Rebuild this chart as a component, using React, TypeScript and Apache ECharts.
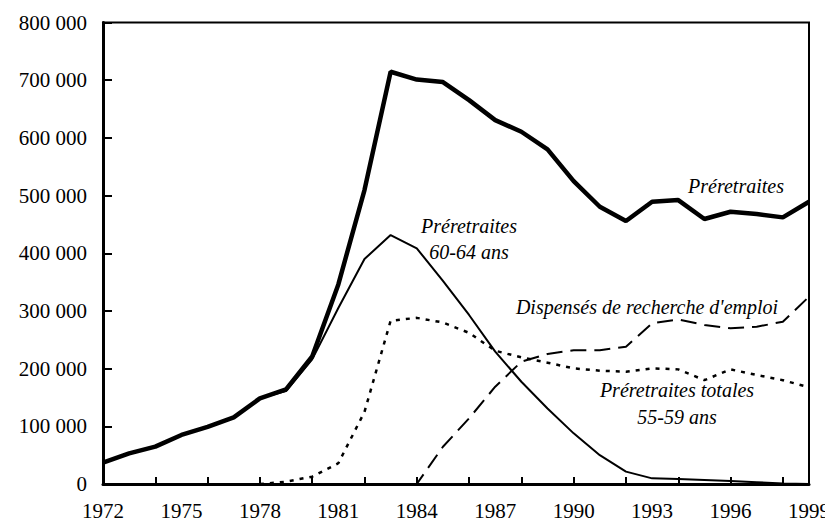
import React, { useEffect, useRef } from "react";
import * as echarts from "echarts";

const years = [
  "1972", "1973", "1974", "1975", "1976", "1977", "1978", "1979", "1980", "1981",
  "1982", "1983", "1984", "1985", "1986", "1987", "1988", "1989", "1990", "1991",
  "1992", "1993", "1994", "1995", "1996", "1997", "1998", "1999",
];

const preretraites = [
  37000, 53000, 64700, 85000, 99000, 115600, 148500, 164000, 221000, 346000,
  509500, 714600, 701000, 696700, 665500, 630800, 610600, 580000, 525000, 480600,
  455800, 489300, 492200, 459300, 472000, 468000, 462200, 489300,
];

const pre6064 = [
  37000, 53000, 64700, 85000, 99000, 115600, 148500, 161000, 216000, 305000,
  390000, 431500, 408500, 352000, 293000, 229400, 177300, 131000, 87800, 50000,
  21400, 9800, 8600, 6900, 5000, 3000, 1000, 0,
];

const pre5559 = [
  null, null, null, null, null, null, 0, 4000, 12700, 36000,
  125000, 283000, 288000, 280000, 262000, 231000, 219500, 210300, 200500, 196400,
  194700, 200500, 198700, 180000, 198700, 189000, 180000, 167500,
];

const dispenses = [
  null, null, null, null, null, null, null, null, null, null,
  0, 0, 0, 64600, 113800, 168700, 212000, 225300, 232000, 232000,
  238000, 278500, 285400, 275600, 269800, 272600, 281300, 324600,
];

const FONT = "Liberation Serif";

export default function App() {
  const ref = useRef<HTMLDivElement>(null);
  useEffect(() => {
    if (!ref.current) return;
    const chart = echarts.init(ref.current, null, { renderer: "svg" });
    const labelStyle = (text: string, x: number, y: number) => ({
      type: "text",
      x,
      y,
      style: {
        text,
        fill: "#000",
        fontFamily: FONT,
        fontStyle: "italic",
        fontSize: 20,
        align: "center",
        verticalAlign: "middle",
      },
    });
    chart.setOption({
      animation: false,
      backgroundColor: "#fff",
      grid: {
        left: 103,
        right: 24,
        top: 22.5,
        bottom: 42,
        show: true,
        borderColor: "#000",
        borderWidth: 2,
      },
      xAxis: {
        type: "category",
        data: years,
        boundaryGap: false,
        axisLine: { lineStyle: { color: "#000", width: 3 } },
        axisTick: {
          inside: true,
          length: 7,
          interval: (i: number) => i % 2 === 0,
          lineStyle: { color: "#000", width: 2 },
        },
        axisLabel: {
          interval: (i: number) => i % 3 === 0,
          color: "#000",
          fontFamily: FONT,
          fontSize: 21,
          margin: 16,
        },
        splitLine: { show: false },
      },
      yAxis: {
        type: "value",
        min: 0,
        max: 800000,
        interval: 100000,
        axisLine: { show: true, lineStyle: { color: "#000", width: 3 } },
        axisTick: { show: true, inside: true, length: 9, lineStyle: { color: "#000", width: 2 } },
        axisLabel: {
          color: "#000",
          fontFamily: FONT,
          fontSize: 21,
          margin: 16,
          formatter: (v: number) => (v === 0 ? "0" : `${v / 1000} 000`),
        },
        splitLine: { show: false },
      },
      series: [
        {
          name: "Préretraites",
          type: "line",
          data: preretraites,
          symbol: "none",
          lineStyle: { color: "#000", width: 4.5 },
        },
        {
          name: "Préretraites 60-64 ans",
          type: "line",
          data: pre6064,
          symbol: "none",
          lineStyle: { color: "#000", width: 2 },
        },
        {
          name: "Préretraites totales 55-59 ans",
          type: "line",
          data: pre5559,
          symbol: "none",
          lineStyle: { color: "#000", width: 2.5, type: [4, 6] },
        },
        {
          name: "Dispensés de recherche d'emploi",
          type: "line",
          data: dispenses,
          symbol: "none",
          lineStyle: { color: "#000", width: 2, type: [16, 8] },
        },
      ],
      graphic: [
        labelStyle("Préretraites", 736, 186),
        labelStyle("Préretraites", 469, 226),
        labelStyle("60-64 ans", 469, 252),
        labelStyle("Dispensés de recherche d'emploi", 647, 307),
        labelStyle("Préretraites totales", 677, 390),
        labelStyle("55-59 ans", 677, 417),
      ],
    });
    return () => chart.dispose();
  }, []);
  return <div ref={ref} style={{ width: 833, height: 526, margin: -8 }} />;
}
